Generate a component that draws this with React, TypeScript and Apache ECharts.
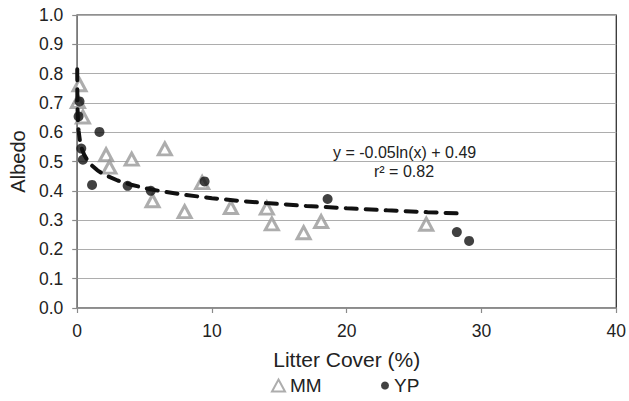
import React, { useEffect, useRef } from "react";
import * as echarts from "echarts";

// Litter cover (%) and albedo
const MM_X = [0.17, 0.05, 0.42, 2.14, 2.39, 4.04, 6.5, 9.27, 5.59, 7.97, 11.4, 14.07, 14.44, 16.8, 18.1, 25.9];
const MM_Y = [0.762, 0.705, 0.652, 0.523, 0.481, 0.508, 0.543, 0.428, 0.366, 0.329, 0.343, 0.341, 0.287, 0.257, 0.295, 0.286];

const YP_X = [0.17, 0.1, 0.3, 0.42, 1.65, 1.1, 3.74, 5.46, 9.45, 18.58, 28.17, 29.08];
const YP_Y = [0.705, 0.654, 0.544, 0.506, 0.601, 0.42, 0.417, 0.4, 0.432, 0.372, 0.259, 0.229];

// Fitted trend line as printed on the chart: y = -0.05 ln(x) + 0.49
const TREND_A = -0.05;
const TREND_B = 0.49;
const TREND_X = [0.0015, 0.003, 0.006, 0.01, 0.02, 0.05, 0.1, 0.2, 0.35, 0.5, 0.75, 1, 1.5, 2, 3, 4, 5, 6, 8, 10, 12, 14, 17, 20, 23, 26, 28.7];

const X_TICKS = [0, 10, 20, 30, 40];
const Y_TICKS = [0, 0.1, 0.2, 0.3, 0.4, 0.5, 0.6, 0.7, 0.8, 0.9, 1.0];

const EQUATION = "y = -0.05ln(x) + 0.49";
const R2 = "r² = 0.82";

const FONT = "Liberation Sans, Arial, Helvetica, sans-serif";

export default function App() {
  const ref = useRef<HTMLDivElement>(null);

  useEffect(() => {
    if (!ref.current) return;
    const chart = echarts.init(ref.current, undefined, { renderer: "svg" });
    const mm = MM_X.map((x, i) => [x, MM_Y[i]]);
    const yp = YP_X.map((x, i) => [x, YP_Y[i]]);
    const trend = TREND_X.map((x) => [x, TREND_A * Math.log(x) + TREND_B]);

    chart.setOption({
      animation: false,
      backgroundColor: "#ffffff",
      textStyle: { fontFamily: FONT },
      grid: {
        left: 76,
        right: 11,
        top: 15,
        bottom: 93,
        show: true,
        borderColor: "#222222",
        borderWidth: 1.2,
        backgroundColor: "transparent",
      },
      xAxis: {
        type: "value",
        min: X_TICKS[0],
        max: X_TICKS[X_TICKS.length - 1],
        interval: 10,
        name: "Litter Cover (%)",
        nameLocation: "middle",
        nameGap: 41,
        nameTextStyle: { fontSize: 21, color: "#222", fontFamily: FONT },
        axisLine: { show: true, lineStyle: { color: "#8a8a8a", width: 1.5 } },
        axisTick: { show: true, length: 5, lineStyle: { color: "#8a8a8a", width: 1.2 } },
        axisLabel: { fontSize: 17.5, color: "#222", margin: 14, fontFamily: FONT },
        splitLine: { show: false },
      },
      yAxis: {
        type: "value",
        min: Y_TICKS[0],
        max: Y_TICKS[Y_TICKS.length - 1],
        interval: 0.1,
        name: "Albedo",
        nameLocation: "middle",
        nameGap: 44,
        nameRotate: 90,
        nameTextStyle: { fontSize: 20, color: "#222", fontFamily: FONT },
        axisLine: { show: true, lineStyle: { color: "#8a8a8a", width: 1.5 } },
        axisTick: { show: true, length: 5, lineStyle: { color: "#8a8a8a", width: 1.2 } },
        axisLabel: {
          fontSize: 17.5,
          color: "#222",
          margin: 14,
          fontFamily: FONT,
          formatter: (v: number) => v.toFixed(1),
        },
        splitLine: { show: true, lineStyle: { color: "#adadad", width: 1 } },
      },
      legend: [
        {
          data: ["MM"],
          left: 271,
          top: 376,
          padding: 0,
          itemWidth: 13,
          itemHeight: 12,
          textStyle: { fontSize: 19, color: "#222", fontFamily: FONT },
        },
        {
          data: ["YP"],
          left: 381,
          top: 376,
          padding: 0,
          itemWidth: 8,
          itemHeight: 8,
          textStyle: { fontSize: 19, color: "#222", fontFamily: FONT },
        },
      ],
      series: [
        {
          name: "MM",
          type: "scatter",
          data: mm,
          symbol: "triangle",
          symbolSize: [13, 12],
          itemStyle: { color: "#ffffff", borderColor: "#999999", borderWidth: 3 },
          z: 2,
        },
        {
          name: "YP",
          type: "scatter",
          data: yp,
          symbol: "circle",
          symbolSize: 10,
          itemStyle: { color: "#111111" },
          z: 3,
        },
        {
          name: "trend",
          type: "line",
          data: trend,
          showSymbol: false,
          symbol: "none",
          smooth: false,
          lineStyle: { color: "#111", width: 4, type: [11, 9], cap: "round" },
          z: 4,
          silent: true,
        },
      ],
      graphic: [
        {
          type: "text",
          left: 333,
          top: 144,
          style: { text: EQUATION, fontSize: 16, fill: "#222", fontFamily: FONT },
        },
        {
          type: "text",
          left: 374,
          top: 163,
          style: { text: R2, fontSize: 16, fill: "#222", fontFamily: FONT },
        },
      ],
    });
    return () => chart.dispose();
  }, []);

  return (
    <div
      ref={ref}
      style={{ position: "fixed", left: 0, top: 0, width: 629, height: 401 }}
    />
  );
}
